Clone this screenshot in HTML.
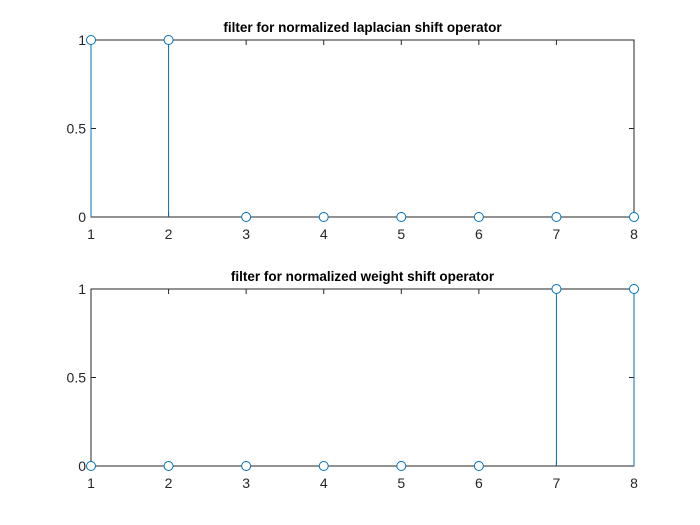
<!DOCTYPE html>
<html><head><meta charset="utf-8"><style>
body{margin:0;background:#fff}
svg{display:block;font-family:"Liberation Sans",Arial,sans-serif}
</style></head><body>
<svg id="fig" width="700" height="525" viewBox="0 0 700 525"></svg>
<script>
const categories=[1,2,3,4,5,6,7,8];
const laplacianValues=[1,1,0,0,0,0,0,0];
const weightValues=[0,0,0,0,0,0,1,1];
const yTicks=[0,0.5,1];
const yTickLabels=['0','0.5','1'];
const NS='http://www.w3.org/2000/svg';
const svg=document.getElementById('fig');
function mk(t,a,p){const e=document.createElementNS(NS,t);for(const k in a)e.setAttribute(k,a[k]);(p||svg).appendChild(e);return e;}
function panel(top,bottom,title,vals,name){
  const L=91,R=634;
  const g=mk('g',{});
  
  
  const xs=v=>L+(v-1)*(R-L)/7;
  const ys=v=>bottom-v*(bottom-top);
  const box=mk('rect',{x:L,y:top,width:R-L,height:bottom-top,fill:'#fff',stroke:'#262626','stroke-width':1},g);
  
  
  categories.forEach(c=>{
    const x=xs(c);
    mk('line',{x1:x,y1:bottom,x2:x,y2:bottom-5,stroke:'#262626'},g);
    mk('line',{x1:x,y1:top,x2:x,y2:top+5,stroke:'#262626'},g);
    const t=mk('text',{x:x,y:bottom+22,'text-anchor':'middle','font-size':14,fill:'#262626'},g);
    t.textContent=c;
    
    
  });
  yTicks.forEach((v,i)=>{
    const y=ys(v);
    mk('line',{x1:L,y1:y,x2:L+5,y2:y,stroke:'#262626'},g);
    mk('line',{x1:R,y1:y,x2:R-5,y2:y,stroke:'#262626'},g);
    const t=mk('text',{x:L-5,y:y+5,'text-anchor':'end','font-size':14,fill:'#262626'},g);
    t.textContent=yTickLabels[i];
    
    
  });
  const tt=mk('text',{x:(L+R)/2,y:top-8,'text-anchor':'middle','font-size':13.5,'font-weight':'bold',fill:'#000'},g);
  tt.textContent=title;
  
  
  categories.forEach((c,i)=>{
    const x=xs(c),y=ys(vals[i]);
    const s=mk('line',{x1:x,y1:ys(0),x2:x,y2:y,stroke:'#0072BD','stroke-width':1},g);
    
    
    const m=mk('circle',{cx:x,cy:y,r:4.5,fill:'#fff',stroke:'#0072BD','stroke-width':1},g);
    
    
  });
}
panel(40,217,'filter for normalized laplacian shift operator',laplacianValues,'laplacian-filter-panel');
panel(289,466,'filter for normalized weight shift operator',weightValues,'weight-filter-panel');
</script>
</body></html>
